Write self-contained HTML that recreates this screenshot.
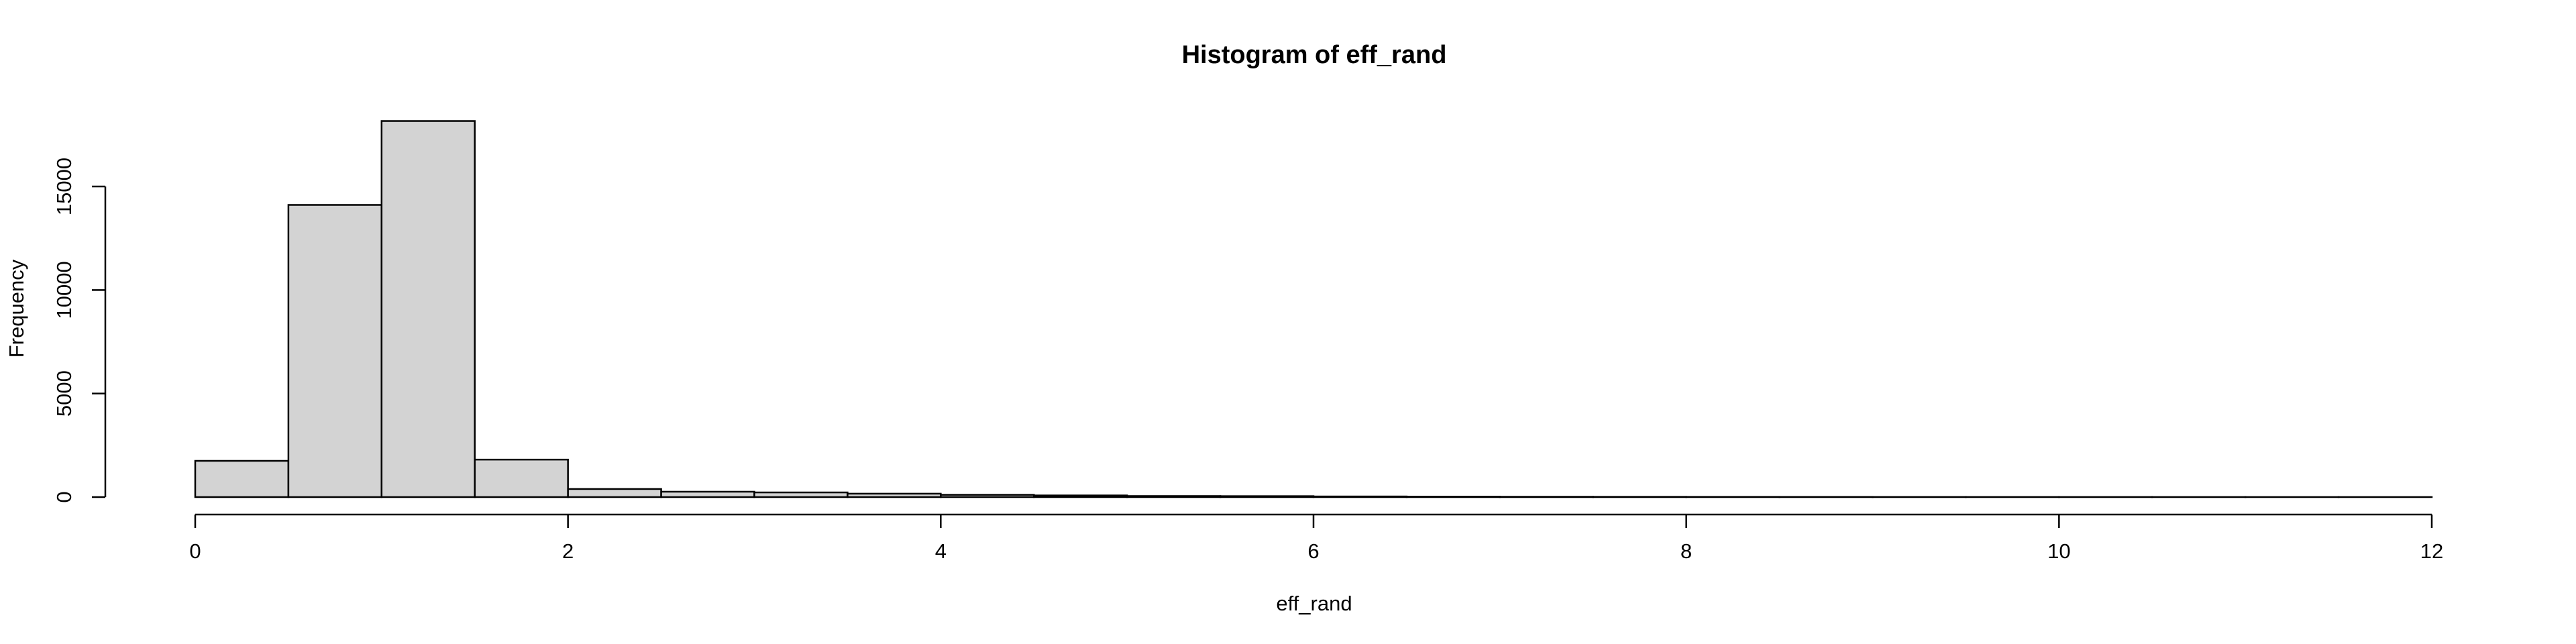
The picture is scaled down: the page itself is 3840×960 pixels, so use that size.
<!DOCTYPE html>
<html><head><meta charset="utf-8"><style>
html,body{margin:0;padding:0;background:#fff;}
svg{display:block;font-family:"Liberation Sans",Arial,sans-serif;}
</style></head><body>
<svg id="chart" width="3840" height="960" viewBox="0 0 3840 960">
<text x="1959" y="94" font-size="38" font-weight="bold" text-anchor="middle">Histogram of eff_rand</text>
<text x="1959" y="910" font-size="31" text-anchor="middle">eff_rand</text>
<text x="0" y="0" font-size="31" text-anchor="middle" transform="translate(35,460) rotate(-90)">Frequency</text>
<g id="bars"></g>
<g id="xaxis"></g>
<g id="yaxis"></g>
</svg>
<script>
const binEdges = [0,0.5,1,1.5,2,2.5,3,3.5,4,4.5,5,5.5,6,6.5,7,7.5,8,8.5,9,9.5,10,10.5,11,11.5,12];
const counts = [1750,14110,18160,1810,390,260,225,165,110,80,50,45,30,20,15,12,10,8,6,5,4,3,2,2];
const xTicks = [0,2,4,6,8,10,12];
const yTicks = [0,5000,10000,15000];

const NS = "http://www.w3.org/2000/svg";
const x = v => 291 + v * (3625 - 291) / 12;
const y = v => 741 - v * (741 - 278) / 15000;
function mk(tag, attrs, parent) {
  const e = document.createElementNS(NS, tag);
  for (const k in attrs) e.setAttribute(k, attrs[k]);
  parent.appendChild(e);
  return e;
}
const bars = document.getElementById('bars');
counts.forEach((c, i) => {
  const r = mk('rect', {x: x(binEdges[i]), y: y(c), width: x(binEdges[i+1]) - x(binEdges[i]), height: y(0) - y(c), fill: '#d3d3d3', stroke: '#000', 'stroke-width': 2.5}, bars);
  
  
});
const xa = document.getElementById('xaxis');


mk('line', {x1: x(xTicks[0]), x2: x(xTicks[xTicks.length-1]), y1: 767, y2: 767, stroke: '#000', 'stroke-width': 2.5}, xa);
xTicks.forEach(t => {
  mk('line', {x1: x(t), x2: x(t), y1: 767, y2: 787, stroke: '#000', 'stroke-width': 2.5}, xa);
  const tx = mk('text', {x: x(t), y: 832, 'font-size': 31, 'text-anchor': 'middle'}, xa);
  tx.textContent = t;
  
  
});
const ya = document.getElementById('yaxis');


mk('line', {x1: 157, x2: 157, y1: y(yTicks[0]), y2: y(yTicks[yTicks.length-1]), stroke: '#000', 'stroke-width': 2.5}, ya);
yTicks.forEach(t => {
  mk('line', {x1: 137, x2: 157, y1: y(t), y2: y(t), stroke: '#000', 'stroke-width': 2.5}, ya);
  const tx = mk('text', {x: 0, y: 0, 'font-size': 31, 'text-anchor': 'middle', transform: 'translate(106,' + y(t) + ') rotate(-90)'}, ya);
  tx.textContent = t;
  
  
});
</script>
</body></html>
